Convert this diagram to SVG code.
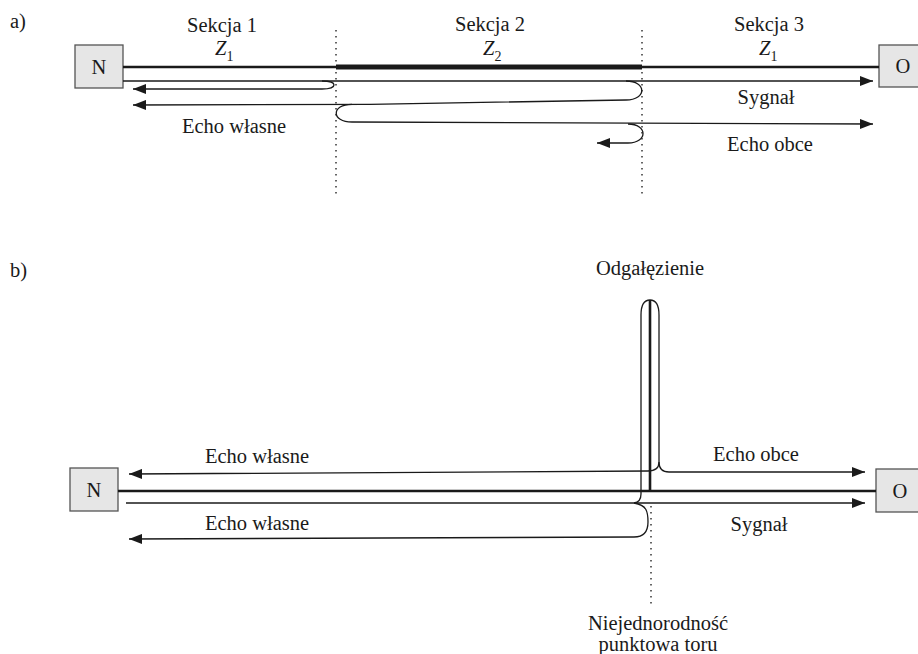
<svg xmlns="http://www.w3.org/2000/svg" width="918" height="654" viewBox="0 0 918 654">
<style>
text{font-family:"Liberation Serif","Times New Roman",serif;font-size:20.5px;fill:#1a1a1a}
.box{fill:#e6e6e6;stroke:#555;stroke-width:1.3}
.main{stroke:#1a1a1a;stroke-width:2.6;fill:none}
.thick{stroke:#1a1a1a;stroke-width:5;fill:none}
.wa{stroke:#1a1a1a;stroke-width:1.3;fill:none;marker-end:url(#ah)}
.dot{stroke:#333;stroke-width:1.5;stroke-dasharray:1.5 4.5;fill:none}
.z{font-style:italic}
.sub{font-style:normal;font-size:14px}
</style>
<defs>
<marker id="ah" viewBox="0 0 13 10" markerWidth="13" markerHeight="10" refX="13" refY="5" markerUnits="userSpaceOnUse" orient="auto">
<path d="M0,0 L13,5 L0,10 z" fill="#1a1a1a"/>
</marker>
</defs>

<text x="10" y="28">a)</text>
<text x="10" y="277">b)</text>

<!-- part a nodes -->
<g id="a-N"><rect class="box" x="75" y="45" width="48" height="43"/><text x="99" y="74" text-anchor="middle">N</text></g>
<g id="a-O"><rect class="box" x="879" y="45" width="48" height="42"/><text x="903" y="73" text-anchor="middle">O</text></g>

<g id="a-labels">
<text x="222" y="32" text-anchor="middle">Sekcja 1</text>
<text class="z" x="215" y="55">Z<tspan class="sub" dy="6">1</tspan></text>
<text x="490" y="31" text-anchor="middle">Sekcja 2</text>
<text class="z" x="483" y="55">Z<tspan class="sub" dy="6">2</tspan></text>
<text x="769" y="31" text-anchor="middle">Sekcja 3</text>
<text class="z" x="759" y="55">Z<tspan class="sub" dy="6">1</tspan></text>
<text x="766" y="104" text-anchor="middle">Sygnał</text>
<text x="770" y="151" text-anchor="middle">Echo obce</text>
<text x="234" y="133" text-anchor="middle">Echo własne</text>
</g>

<g id="a-connectors">
<line class="dot" x1="336" y1="30" x2="336" y2="198"/>
<line class="dot" x1="642" y1="30" x2="642" y2="198"/>
<line class="main" x1="123" y1="67" x2="879" y2="67"/>
<line class="thick" x1="336" y1="67" x2="642" y2="67"/>
<path class="wa" d="M123,81 L873,81"/>
<path class="wa" d="M322,81 C338,81 338,89 322,89 L133,89"/>
<path class="wa" d="M626,81 C647,81 647,100 626,100 L370,104.3 L133,105"/>
<path class="wa" d="M352,104.3 C331,104.3 331,122 352,122 L873,124"/>
<path class="wa" d="M628,124 C648,124 648,143 628,143 L597,143"/>
</g>

<!-- part b nodes -->
<g id="b-N"><rect class="box" x="70" y="468" width="48" height="43"/><text x="94" y="497" text-anchor="middle">N</text></g>
<g id="b-O"><rect class="box" x="876" y="469" width="48" height="43"/><text x="900" y="498" text-anchor="middle">O</text></g>

<g id="b-labels">
<text x="650" y="275" text-anchor="middle">Odgałęzienie</text>
<text x="257" y="463" text-anchor="middle">Echo własne</text>
<text x="257" y="530" text-anchor="middle">Echo własne</text>
<text x="756" y="461" text-anchor="middle">Echo obce</text>
<text x="759" y="531" text-anchor="middle">Sygnał</text>
<text x="658" y="630" text-anchor="middle">Niejednorodność</text>
<text x="658" y="651" text-anchor="middle">punktowa toru</text>
</g>

<g id="b-connectors">
<line class="dot" x1="651" y1="506" x2="651" y2="604"/>
<line class="main" x1="118" y1="491" x2="876" y2="491"/>
<line class="main" x1="650" y1="300" x2="650" y2="491"/>
<path class="wa" d="M126,503 L865,503"/>
<path class="wa" d="M634,503 Q641,502 641,494 L641,315 Q641,300 650,300 Q659,300 659,315 L659,462 Q659,472 669,472 L865,472"/>
<path class="wa" d="M659,462 Q659,471 648,471 L129,474"/>
<path class="wa" d="M634,503 C647,505 648,512 648,522 Q648,537 634,537 L129,539"/>
</g>
</svg>
